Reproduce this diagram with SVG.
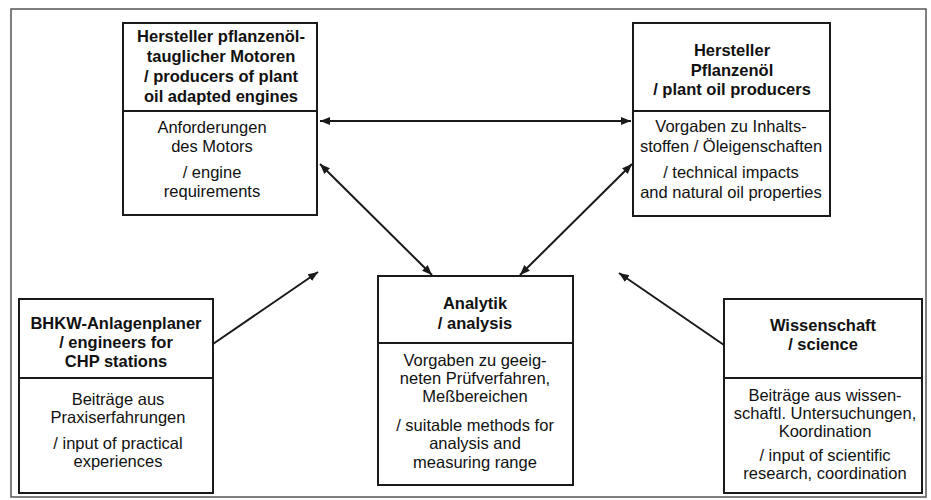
<svg xmlns="http://www.w3.org/2000/svg" width="931" height="500" viewBox="0 0 931 500">
<style>
.box{fill:#fff;stroke:#1a1a1a;stroke-width:2}
.div{stroke:#1a1a1a;stroke-width:2}
.t{font-family:"Liberation Sans",Arial,sans-serif;font-size:16.5px;font-weight:bold;fill:#111;text-anchor:middle}
.b{font-family:"Liberation Sans",Arial,sans-serif;font-size:16.5px;fill:#111;text-anchor:middle}
.c{stroke:#1a1a1a;stroke-width:2;fill:none}
</style>
<defs>
<marker id="ah" markerUnits="userSpaceOnUse" markerWidth="12" markerHeight="10" refX="10" refY="4" orient="auto-start-reverse">
<path d="M0,0 L10,4 L0,8 Z" fill="#1a1a1a"/>
</marker>
</defs>
<rect x="0" y="0" width="931" height="500" fill="#fff"/>
<rect id="frame" x="11" y="9" width="915" height="488" fill="none" stroke="#555" stroke-width="1.5"/>
<g id="connectors">
<line class="c" x1="320" y1="121" x2="631" y2="121" marker-start="url(#ah)" marker-end="url(#ah)"/>
<line class="c" x1="320" y1="164" x2="432" y2="275" marker-start="url(#ah)" marker-end="url(#ah)"/>
<line class="c" x1="632" y1="164" x2="520" y2="275" marker-start="url(#ah)" marker-end="url(#ah)"/>
<line class="c" x1="213" y1="344" x2="318" y2="272" marker-end="url(#ah)"/>
<line class="c" x1="724" y1="345" x2="619" y2="273" marker-end="url(#ah)"/>
</g>
<g id="motoren">
<rect class="box" x="123" y="23" width="194" height="192"/>
<line class="div" x1="123" y1="111" x2="317" y2="111"/>
<text class="t" x="221" y="42">Hersteller pflanzenöl-</text>
<text class="t" x="221" y="62">tauglicher Motoren</text>
<text class="t" x="221" y="82">/ producers of plant</text>
<text class="t" x="221" y="102">oil adapted engines</text>
<text class="b" x="212" y="133">Anforderungen</text>
<text class="b" x="212" y="152">des Motors</text>
<text class="b" x="212" y="178">/ engine</text>
<text class="b" x="212" y="197">requirements</text>
</g>
<g id="pflanzenoel">
<rect class="box" x="633" y="23" width="197" height="193"/>
<line class="div" x1="633" y1="111" x2="830" y2="111"/>
<text class="t" x="732" y="56">Hersteller</text>
<text class="t" x="732" y="76">Pflanzenöl</text>
<text class="t" x="732" y="95">/ plant oil producers</text>
<text class="b" x="731" y="132">Vorgaben zu Inhalts-</text>
<text class="b" x="731" y="152">stoffen / Öleigenschaften</text>
<text class="b" x="731" y="178">/ technical impacts</text>
<text class="b" x="731" y="198">and natural oil properties</text>
</g>
<g id="bhkw">
<rect class="box" x="19" y="299" width="194" height="194"/>
<line class="div" x1="19" y1="378" x2="213" y2="378"/>
<text class="t" x="116" y="329">BHKW-Anlagenplaner</text>
<text class="t" x="116" y="348">/ engineers for</text>
<text class="t" x="116" y="367">CHP stations</text>
<text class="b" x="118" y="405">Beiträge aus</text>
<text class="b" x="118" y="423">Praxiserfahrungen</text>
<text class="b" x="118" y="449">/ input of practical</text>
<text class="b" x="118" y="467">experiences</text>
</g>
<g id="analytik">
<rect class="box" x="378" y="276" width="195" height="209"/>
<line class="div" x1="378" y1="343" x2="573" y2="343"/>
<text class="t" x="475" y="309">Analytik</text>
<text class="t" x="475" y="329">/ analysis</text>
<text class="b" x="475" y="366">Vorgaben zu geeig-</text>
<text class="b" x="475" y="384">neten Prüfverfahren,</text>
<text class="b" x="475" y="402">Meßbereichen</text>
<text class="b" x="475" y="431">/ suitable methods for</text>
<text class="b" x="475" y="449">analysis and</text>
<text class="b" x="475" y="468">measuring range</text>
</g>
<g id="wissenschaft">
<rect class="box" x="724" y="299" width="198" height="194"/>
<line class="div" x1="724" y1="378" x2="922" y2="378"/>
<text class="t" x="823" y="331">Wissenschaft</text>
<text class="t" x="823" y="350">/ science</text>
<text class="b" x="825" y="401">Beiträge aus wissen-</text>
<text class="b" x="825" y="419">schaftl. Untersuchungen,</text>
<text class="b" x="825" y="437">Koordination</text>
<text class="b" x="825" y="461">/ input of scientific</text>
<text class="b" x="825" y="479">research, coordination</text>
</g>
</svg>
